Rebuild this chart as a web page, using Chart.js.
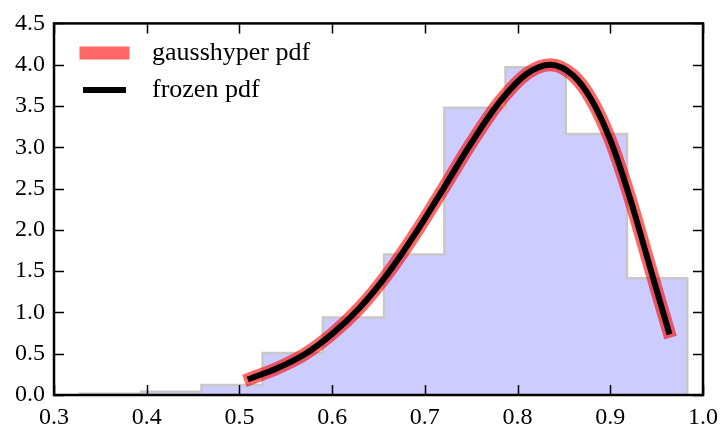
<!DOCTYPE html>
<html>
<head>
<meta charset="utf-8">
<script src="https://cdn.jsdelivr.net/npm/chart.js@4.4.1/dist/chart.umd.min.js"></script>
<style>
  body { margin: 0; background: #fff; }
  #wrap { width: 726px; height: 430px; }
</style>
</head>
<body>
<div id="wrap"><canvas id="pdfChart" width="726" height="430"></canvas></div>
<script>
// histogram of random samples (density)
const binEdges = [0.328, 0.394, 0.459, 0.525, 0.590, 0.656, 0.721, 0.787, 0.852, 0.918, 0.983];
const binHeights = [0.015, 0.04, 0.12, 0.51, 0.94, 1.70, 3.48, 3.97, 3.16, 1.415];

// pdf curve points (both lines lie on top of each other)
const pdfX = [0.512, 0.54, 0.57, 0.60, 0.63, 0.66, 0.69, 0.72, 0.75, 0.78, 0.81, 0.835, 0.86, 0.88, 0.90, 0.92, 0.94, 0.95, 0.963];
const pdfY = [0.20, 0.32, 0.49, 0.74, 1.06, 1.47, 1.96, 2.50, 3.05, 3.54, 3.89, 4.00, 3.87, 3.57, 3.09, 2.43, 1.66, 1.27, 0.77];

const xTicks = [0.3, 0.4, 0.5, 0.6, 0.7, 0.8, 0.9, 1.0];
const yTicks = [0.0, 0.5, 1.0, 1.5, 2.0, 2.5, 3.0, 3.5, 4.0, 4.5];

const FONT = '"Liberation Serif", "DejaVu Serif", serif';

// step outline for the stepfilled histogram
const histPoints = [{ x: binEdges[0], y: 0 }];
binHeights.forEach((h, i) => histPoints.push({ x: binEdges[i], y: h }));
histPoints.push({ x: binEdges[binEdges.length - 1], y: 0 });

const pdfPoints = pdfX.map((x, i) => ({ x: x, y: pdfY[i] }));

// axes frame, inward ticks and the legend box in the upper left
const framePlugin = {
  id: 'frame',
  afterDraw(chart) {
    const { ctx, chartArea: a, scales } = chart;
    ctx.save();
    ctx.strokeStyle = '#000';
    ctx.lineWidth = 1.5;
    const len = 10;
    ctx.beginPath();
    xTicks.forEach(v => {
      const px = Math.round(scales.x.getPixelForValue(v)) + 0.5;
      ctx.moveTo(px, a.bottom); ctx.lineTo(px, a.bottom - len);
      ctx.moveTo(px, a.top); ctx.lineTo(px, a.top + len);
    });
    yTicks.forEach(v => {
      const py = Math.round(scales.y.getPixelForValue(v)) + 0.5;
      ctx.moveTo(a.left, py); ctx.lineTo(a.left + len, py);
      ctx.moveTo(a.right, py); ctx.lineTo(a.right - len, py);
    });
    ctx.stroke();
    ctx.lineWidth = 2.5;
    ctx.strokeRect(a.left, a.top, a.right - a.left, a.bottom - a.top);

    // legend
    const items = chart.data.datasets.filter(d => d.inLegend).reverse();
    ctx.font = '26px ' + FONT;
    ctx.textBaseline = 'middle';
    ctx.lineCap = 'square';
    items.forEach((d, i) => {
      const y = 53 + i * 37;
      ctx.strokeStyle = d.borderColor;
      ctx.lineWidth = d.borderWidth;
      ctx.beginPath();
      ctx.moveTo(a.left + 32, y);
      ctx.lineTo(a.left + 69, y);
      ctx.stroke();
      ctx.fillStyle = '#000';
      ctx.fillText(d.label, a.left + 98, y);
    });
    ctx.restore();
  }
};

const ctx = document.getElementById('pdfChart').getContext('2d');
const myChart = new Chart(ctx, {
  type: 'line',
  data: {
    datasets: [
      {
        label: 'frozen pdf',
        inLegend: true,
        data: pdfPoints,
        borderColor: '#000000',
        borderWidth: 6,
        borderCapStyle: 'square',
        cubicInterpolationMode: 'monotone',
        pointRadius: 0,
        fill: false,
        order: 0
      },
      {
        label: 'gausshyper pdf',
        inLegend: true,
        data: pdfPoints,
        borderColor: 'rgba(255, 0, 0, 0.6)',
        borderWidth: 13,
        borderCapStyle: 'square',
        cubicInterpolationMode: 'monotone',
        pointRadius: 0,
        fill: false,
        order: 1
      },
      {
        label: 'hist',
        data: histPoints,
        stepped: 'before',
        borderColor: '#c8c8c8',
        borderWidth: 2.5,
        backgroundColor: 'rgba(0, 0, 255, 0.2)',
        pointRadius: 0,
        fill: 'origin',
        order: 2
      }
    ]
  },
  options: {
    responsive: false,
    animation: false,
    layout: { padding: { top: 22, right: 9, left: 0, bottom: 0 } },
    plugins: {
      legend: { display: false },
      tooltip: { enabled: false }
    },
    scales: {
      x: {
        type: 'linear',
        min: 0.3,
        max: 1.0,
        grid: { display: false, drawTicks: false },
        border: { display: false },
        afterFit: s => { s.height = 35; },
        afterBuildTicks: s => { s.ticks = xTicks.map(v => ({ value: v })); },
        ticks: {
          color: '#000',
          padding: 8,
          maxRotation: 0,
          font: { family: FONT, size: 24 },
          callback: v => v.toFixed(1)
        }
      },
      y: {
        type: 'linear',
        min: 0,
        max: 4.5,
        grid: { display: false, drawTicks: false },
        border: { display: false },
        afterFit: s => { s.width = 54; },
        afterBuildTicks: s => { s.ticks = yTicks.map(v => ({ value: v })); },
        ticks: {
          color: '#000',
          padding: 9,
          font: { family: FONT, size: 24 },
          callback: v => v.toFixed(1)
        }
      }
    }
  },
  plugins: [framePlugin]
});
</script>
</body>
</html>
